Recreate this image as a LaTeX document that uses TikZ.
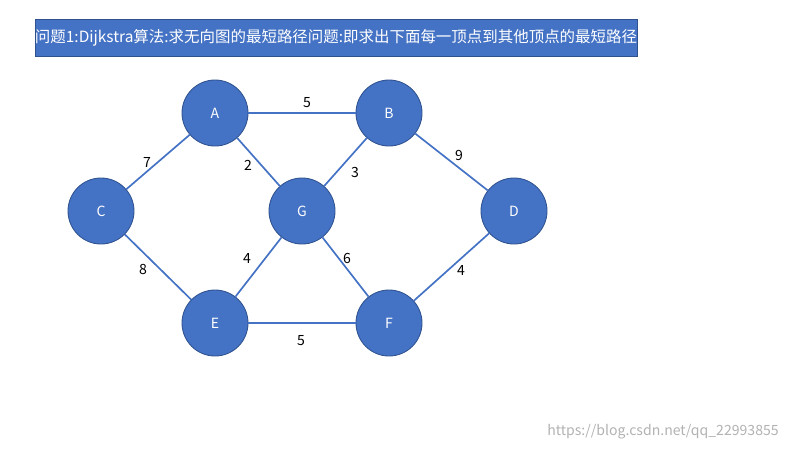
\documentclass[tikz,border=0pt]{standalone}
\usepackage{fontspec}
\setmainfont{Noto Sans CJK SC}
\definecolor{nodeblue}{HTML}{4472C4}
\definecolor{nodeedge}{HTML}{2F528F}
\definecolor{edgeblue}{HTML}{4472C4}
\begin{document}
\begin{tikzpicture}[x=0.025cm,y=-0.025cm,
  vert/.style={circle,fill=nodeblue,draw=nodeedge,line width=0.6pt,minimum size=1.65cm,inner sep=0pt,text=white,font=\fontsize{10}{12}\selectfont},
  edge/.style={draw=edgeblue,line width=1.2pt},
  wlab/.style={font=\fontsize{10}{12}\selectfont,text=black}]
\useasboundingbox (0,0) rectangle (800,450);
\node[fill=nodeblue,draw=nodeedge,line width=0.6pt,minimum width=15.05cm,minimum height=0.925cm,anchor=north west,inner sep=0pt] (title) at (35,19) {};
\node[text=white,font=\fontsize{11}{13}\selectfont] (titletext) at (336,37.5) {问题1:Dijkstra算法:求无向图的最短路径问题:即求出下面每一顶点到其他顶点的最短路径};
\node[vert] (A) at (215,113) {A};
\node[vert] (B) at (389,113) {B};
\node[vert] (C) at (101,211) {C};
\node[vert] (G) at (302,211) {G};
\node[vert] (D) at (514,211) {D};
\node[vert] (E) at (215,323) {E};
\node[vert] (F) at (389,323) {F};
\begin{scope}[on background layer/.style={}]
\end{scope}
\draw[edge] (A) -- (B);
\draw[edge] (A) -- (C);
\draw[edge] (A) -- (G);
\draw[edge] (B) -- (G);
\draw[edge] (B) -- (D);
\draw[edge] (C) -- (E);
\draw[edge] (G) -- (E);
\draw[edge] (G) -- (F);
\draw[edge] (D) -- (F);
\draw[edge] (E) -- (F);
\node[wlab] (l1) at (307,103) {5};
\node[wlab] (l2) at (147,162) {7};
\node[wlab] (l3) at (248,165) {2};
\node[wlab] (l4) at (355,172) {3};
\node[wlab] (l5) at (459,155) {9};
\node[wlab] (l6) at (247,258) {4};
\node[wlab] (l7) at (347,258) {6};
\node[wlab] (l8) at (143,269) {8};
\node[wlab] (l9) at (461,270) {4};
\node[wlab] (l10) at (301,341) {5};
\node[text=gray!60,font=\fontsize{10}{12}\selectfont] (wm) at (663,432) {https://blog.csdn.net/qq\_22993855};
\end{tikzpicture}
\end{document}
